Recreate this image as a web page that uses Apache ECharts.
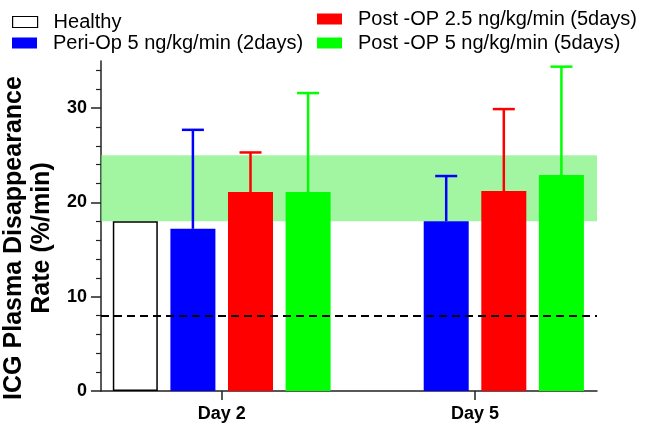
<!DOCTYPE html>
<html>
<head>
<meta charset="utf-8">
<script src="https://cdn.jsdelivr.net/npm/echarts@6/dist/echarts.min.js"></script>
<style>
  html, body { margin: 0; padding: 0; background: #fff; }
  #chart { width: 647px; height: 427px; }
</style>
</head>
<body>
<div id="chart"></div>
<script>
// values
const categories = ['Day 2', 'Day 5'];
const seriesNames = [
    'Healthy',
    'Peri-Op 5 ng/kg/min (2days)',
    'Post -OP 2.5 ng/kg/min (5days)',
    'Post -OP 5 ng/kg/min (5days)'
];
const healthy = [18.0, null];
const periOp = [17.2, 18.0];
const postOp25 = [21.1, 21.2];
const postOp5 = [21.1, 22.9];
const periOpSD = [10.5, 4.8];
const postOp25SD = [4.2, 8.7];
const postOp5SD = [10.5, 11.5];
const normalRange = [18, 25];
const cutoff = 8;
const yLabelValues = [0, 10, 20, 30];
const yMinorTickValues = [2, 4, 6, 8, 12, 14, 16, 18, 22, 24, 26, 28, 32, 34];
const xTickValues = [0, 1];

const font = "'Liberation Sans', Arial, sans-serif";
const axisColor = '#222';
const barWidth = 45;
const barGap = 0.28;
const pitch = barWidth * (1 + barGap);

function toPoints(values) {
    return values.map(function (v, i) { return [i, v]; });
}

// only the upper whisker is drawn, like the original
function errorBars(name, means, sds, color, slot) {
    let offset = (slot - 1.5) * pitch;
    return {
        type: 'custom',
        name: name + ' SD',
        z: 3,
        silent: true,
        data: means.map(function (m, i) { return [i, m, sds[i]]; }),
        renderItem: function (params, api) {
            let base = api.coord([api.value(0), api.value(1)]);
            let top = api.coord([api.value(0), api.value(1) + api.value(2)]);
            let x = base[0] + offset;
            return {
                type: 'group',
                children: [
                    { type: 'line', shape: { x1: x, y1: base[1], x2: x, y2: top[1] }, style: { stroke: color, lineWidth: 2.5 } },
                    { type: 'line', shape: { x1: x - 11, y1: top[1], x2: x + 11, y2: top[1] }, style: { stroke: color, lineWidth: 2.5 } }
                ]
            };
        }
    };
}

function legendAt(left, top, item) {
    return {
        left: left,
        top: top,
        padding: 0,
        icon: 'rect',
        itemWidth: 25,
        itemHeight: 11,
        selectedMode: false,
        textStyle: { fontSize: 20, fontFamily: font, color: '#000', lineHeight: 20, padding: [0, 0, 0, 11] },
        data: [item]
    };
}

function barSeries(name, values, style) {
    return {
        name: name,
        type: 'bar',
        data: toPoints(values),
        barWidth: barWidth,
        barGap: (barGap * 100) + '%',
        itemStyle: style
    };
}

let healthySeries = barSeries(seriesNames[0], healthy, { color: '#fff', borderColor: '#000', borderWidth: 1.5 });
healthySeries.markArea = {
    silent: true,
    itemStyle: { color: 'rgba(100,240,100,0.6)' },
    data: [[{ yAxis: normalRange[0] }, { yAxis: normalRange[1] }]]
};
healthySeries.markLine = {
    silent: true,
    symbol: 'none',
    label: { show: false },
    lineStyle: { color: '#000', width: 2, type: [8, 5] },
    data: [{ yAxis: cutoff }]
};

let chart = echarts.init(document.getElementById('chart'));
chart.setOption({
    animation: false,
    backgroundColor: '#fff',
    legend: [
        legendAt(12, 12, { name: seriesNames[0], itemStyle: { color: '#fff', borderColor: '#000', borderWidth: 1.2 } }),
        legendAt(12, 33, { name: seriesNames[1] }),
        legendAt(317, 9, { name: seriesNames[2] }),
        legendAt(317, 33, { name: seriesNames[3] })
    ],
    grid: { left: 101, right: 50, top: 61, bottom: 36, outerBoundsMode: 'none' },
    xAxis: {
        type: 'value',
        min: -0.4765,
        max: 1.4816,
        splitLine: { show: false },
        axisLine: { onZero: false, lineStyle: { color: axisColor, width: 1.5 } },
        axisTick: { length: 9, customValues: xTickValues, lineStyle: { color: axisColor, width: 1.5 } },
        axisLabel: {
            margin: 14, customValues: xTickValues, fontSize: 18, fontWeight: 'bold', fontFamily: font, color: '#000',
            formatter: function (v) { return categories[Math.round(v)]; }
        }
    },
    yAxis: [
        {
            type: 'value',
            position: 'left',
            min: 0,
            max: 35,
            interval: 10,
            name: 'ICG Plasma Disappearance\nRate (%/min)',
            nameLocation: 'middle',
            nameGap: 38,
            nameTextStyle: { fontSize: 25, fontWeight: 'bold', fontFamily: font, color: '#000', lineHeight: 28, padding: [0, 24, 0, 0] },
            axisLine: { show: true, onZero: false, lineStyle: { color: axisColor, width: 1.5 } },
            axisTick: { show: true, length: 10, customValues: yLabelValues, lineStyle: { color: axisColor, width: 1.5 } },
            axisLabel: { margin: 14, customValues: yLabelValues, fontSize: 18, fontWeight: 'bold', fontFamily: font, color: '#000' },
            splitLine: { show: false }
        },
        {
            type: 'value',
            position: 'left',
            min: 0,
            max: 35,
            interval: 2,
            axisLine: { show: false, onZero: false },
            axisTick: { show: true, length: 5, customValues: yMinorTickValues, lineStyle: { color: axisColor, width: 1.2 } },
            axisLabel: { show: false },
            splitLine: { show: false }
        }
    ],
    series: [
        healthySeries,
        barSeries(seriesNames[1], periOp, { color: '#0000ff' }),
        barSeries(seriesNames[2], postOp25, { color: '#ff0000' }),
        barSeries(seriesNames[3], postOp5, { color: '#00ff00' }),
        errorBars(seriesNames[1], periOp, periOpSD, '#0000ff', 1),
        errorBars(seriesNames[2], postOp25, postOp25SD, '#ff0000', 2),
        errorBars(seriesNames[3], postOp5, postOp5SD, '#00ff00', 3)
    ]
});
</script>
</body>
</html>
